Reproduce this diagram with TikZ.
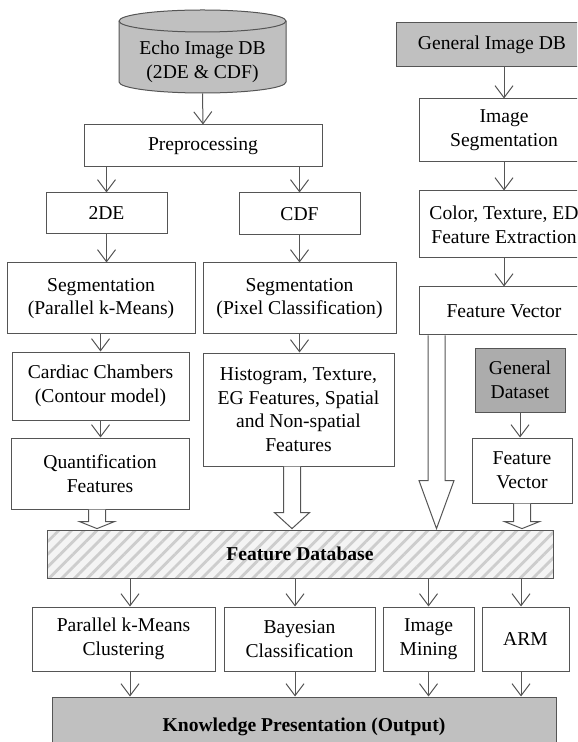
\documentclass[tikz,border=0pt]{standalone}
\usepackage{fontspec}
\setmainfont{Liberation Serif}
\usetikzlibrary{calc,arrows.meta,patterns.meta}

\definecolor{linegray}{RGB}{85,85,85}
\definecolor{dbgray}{RGB}{192,192,192}
\definecolor{setgray}{RGB}{172,172,172}
\definecolor{hatchgray}{RGB}{205,205,205}
\definecolor{hatchbg}{RGB}{244,244,244}

% hollow block arrow: from node, to node, x position, head length
\newcommand{\fatarrow}[4]{%
  \path (#3,0) coordinate (fatx);
  \draw[fat] ($(#1.south -| fatx)+(-8.5,0)$)
    -- ($(#2.north -| fatx)+(-8.5,-#4)$)
    -- ($(#2.north -| fatx)+(-17.5,-#4)$)
    -- (#2.north -| fatx)
    -- ($(#2.north -| fatx)+(17.5,-#4)$)
    -- ($(#2.north -| fatx)+(8.5,-#4)$)
    -- ($(#1.south -| fatx)+(8.5,0)$);
}

\begin{document}
\begin{tikzpicture}[x=0.5pt, y=-0.5pt,
  >={Straight Barb[length=6pt,width=9pt]},
  box/.style={draw=linegray, line width=0.5pt, fill=white, align=center,
    inner sep=1pt, font=\fontsize{9.8}{11.8}\selectfont},
  graybox/.style={box, fill=dbgray},
  setbox/.style={box, fill=setgray},
  hatchbox/.style={draw=linegray, line width=0.5pt, align=center,
    font=\fontsize{9.8}{11.8}\selectfont\bfseries,
    preaction={fill=hatchbg},
    pattern={Lines[angle=45,distance=4.5pt,line width=1.4pt]},
    pattern color=hatchgray},
  arr/.style={->, draw=linegray, line width=0.5pt},
  fat/.style={draw=linegray, line width=0.5pt, fill=white}]

  \useasboundingbox (0,0) rectangle (577,742);
  \clip (0,0) rectangle (577,742);

  % Cylinder parameters
  \def\cylL{119}   % left side
  \def\cylR{286}   % right side
  \def\cylT{21}    % centre of top ellipse
  \def\cylB{82}    % centre of bottom ellipse
  \def\cylRx{83.5}
  \def\cylRy{11}

  % Echo image database (cylinder)
  \draw[draw=linegray, line width=0.5pt, fill=dbgray]
    (\cylL,\cylT) -- (\cylL,\cylB)
    arc[start angle=180, end angle=0, x radius=\cylRx, y radius=\cylRy]
    -- (\cylR,\cylT)
    arc[start angle=0, end angle=-180, x radius=\cylRx, y radius=\cylRy]
    -- cycle;
  \draw[draw=linegray, line width=0.5pt]
    (\cylL,\cylT) arc[start angle=180, end angle=0, x radius=\cylRx, y radius=\cylRy];
  \node[align=center, font=\fontsize{9.8}{11.8}\selectfont,
    minimum width=83.5pt, minimum height=31pt] (echo) at (202.5,62)
    {Echo Image DB\\(2DE \& CDF)};

  % Left part: echo images
  \node[box, minimum width=119pt, minimum height=21pt] (prep) at (203,146) {Preprocessing};
  \node[box, minimum width=60.5pt, minimum height=20.5pt] (de2) at (106.5,213.5) {2DE};
  \node[box, minimum width=60.5pt, minimum height=21pt] (cdf) at (299.5,214) {CDF};
  \node[box, minimum width=94pt, minimum height=35.5pt] (segk) at (101,298.5)
    {Segmentation\\(Parallel k-Means)};
  \node[box, minimum width=96.5pt, minimum height=35.5pt] (segp) at (299.5,298.5)
    {Segmentation\\(Pixel Classification)};
  \node[box, minimum width=88.5pt, minimum height=34pt] (cardiac) at (100.5,386)
    {Cardiac Chambers\\(Contour model)};
  \node[box, minimum width=95.5pt, minimum height=56.5pt] (hist) at (298.5,409.5)
    {Histogram, Texture,\\EG Features, Spatial\\and Non-spatial\\Features};
  \node[box, minimum width=89pt, minimum height=35.5pt] (quant) at (100,473.5)
    {Quantification\\Features};

  % Right part: general images
  \node[graybox, minimum width=96pt, minimum height=22pt] (gidb) at (492,45) {General Image DB};
  \node[box, minimum width=85pt, minimum height=31.5pt] (imgseg) at (504,130.5)
    {Image\\Segmentation};
  \node[box, minimum width=85pt, minimum height=33.5pt] (colfeat) at (504,224.5)
    {Color, Texture, ED\\Feature Extraction};
  \node[box, minimum width=85pt, minimum height=24pt] (fvec) at (504,311) {Feature Vector};
  \node[setbox, minimum width=45pt, minimum height=32pt] (gdata) at (520,380)
    {General\\Dataset};
  \node[box, minimum width=50pt, minimum height=32.5pt] (fvec2) at (522,470.5)
    {Feature\\Vector};

  % Feature database
  \node[hatchbox, minimum width=253pt, minimum height=24pt] (fdb) at (300,554)
    {Feature Database};

  % Mining tasks
  \node[box, minimum width=91.5pt, minimum height=32pt] (pkm) at (123.5,639)
    {Parallel k-Means\\Clustering};
  \node[box, minimum width=75.5pt, minimum height=32pt] (bayes) at (299.5,639)
    {Bayesian\\Classification};
  \node[box, minimum width=45.5pt, minimum height=32pt] (mining) at (428.5,639)
    {Image\\Mining};
  \node[box, minimum width=43.5pt, minimum height=32pt] (arm) at (525.5,639) {ARM};

  % Output
  \node[graybox, minimum width=252pt, minimum height=30pt,
    font=\fontsize{9.8}{11.8}\selectfont\bfseries] (know) at (304,727)
    {Knowledge Presentation (Output)};

  % Thin arrows, left part
  \draw[arr] (echo.south) -- (prep.north);
  \draw[arr] (prep.south -| de2.north) -- (de2.north);
  \draw[arr] (prep.south -| cdf.north) -- (cdf.north);
  \draw[arr] (de2.south) -- (de2.south |- segk.north);
  \draw[arr] (cdf.south) -- (cdf.south |- segp.north);
  \draw[arr] (segk.south -| cardiac.north) -- (cardiac.north);
  \draw[arr] (segp.south) -- (segp.south |- hist.north);
  \draw[arr] (cardiac.south) -- (cardiac.south |- quant.north);

  % Thin arrows, right part
  \draw[arr] (gidb.south -| imgseg.north) -- (imgseg.north);
  \draw[arr] (imgseg.south) -- (colfeat.north);
  \draw[arr] (colfeat.south) -- (fvec.north);
  \draw[arr] (gdata.south) -- (gdata.south |- fvec2.north);

  % Block arrows into the feature database
  \fatarrow{quant}{fdb}{97}{7}
  \fatarrow{hist}{fdb}{292}{16}
  \fatarrow{fvec}{fdb}{436.5}{48}
  \fatarrow{fvec2}{fdb}{522}{7}

  % Arrows to and from the mining tasks
  \coordinate (pkmtop) at ($(pkm.north)+(6.5,0)$);
  \coordinate (bayestop) at ($(bayes.north)+(-4.5,0)$);
  \coordinate (miningtop) at (mining.north);
  \coordinate (armtop) at ($(arm.north)+(-4.5,0)$);
  \draw[arr] (fdb.south -| pkmtop) -- (pkmtop);
  \draw[arr] (fdb.south -| bayestop) -- (bayestop);
  \draw[arr] (fdb.south -| miningtop) -- (miningtop);
  \draw[arr] (fdb.south -| armtop) -- (armtop);
  \draw[arr] (pkm.south -| pkmtop) -- (know.north -| pkmtop);
  \draw[arr] (bayes.south -| bayestop) -- (know.north -| bayestop);
  \draw[arr] (mining.south -| miningtop) -- (know.north -| miningtop);
  \draw[arr] (arm.south -| armtop) -- (know.north -| armtop);

\end{tikzpicture}
\end{document}
